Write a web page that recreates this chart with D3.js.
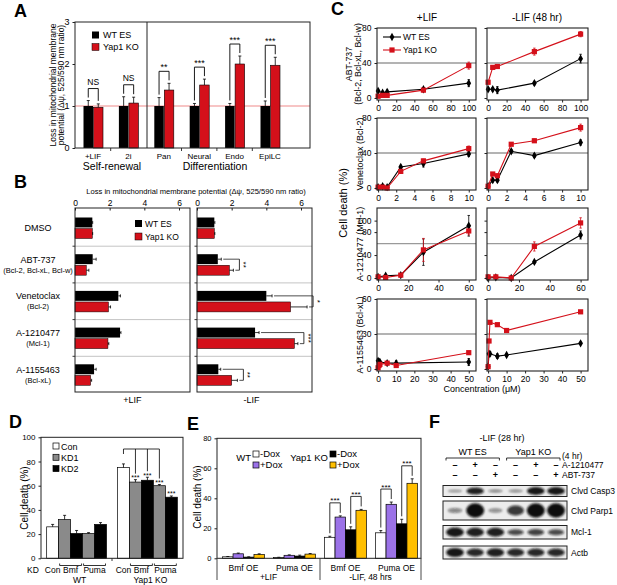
<!DOCTYPE html>
<html lang="en">
<head>
<meta charset="UTF-8" />
<title>Yap1 KO mitochondrial apoptosis</title>
<script src="https://cdn.jsdelivr.net/npm/d3@7"></script>
<style>
  body { margin: 0; background: #fff; }
  svg { display: block; }
</style>
</head>
<body>
<div id="fig"></div>
<script>
/* ---------- data ---------- */
// A: mitochondrial membrane potential loss per condition
const aGroups = ["+LIF", "2i", "Pan", "Neural", "Endo", "EpiLC"];
const aWT    = [1.0, 1.0, 1.0, 1.0, 1.0, 1.0];
const aWTerr = [0.13, 0.22, 0.2, 0.06, 0.06, 0.12];
const aKO    = [0.97, 1.07, 1.38, 1.5, 2.0, 1.97];
const aKOerr = [0.08, 0.14, 0.16, 0.14, 0.19, 0.19];
const aSig   = ["NS", "NS", "**", "***", "***", "***"];

// B: BH3 mimetics, +LIF / -LIF
const bDrugs   = ["DMSO", "ABT-737", "Venetoclax", "A-1210477", "A-1155463"];
const bTargets = ["", "(Bcl-2, Bcl-xL, Bcl-w)", "(Bcl-2)", "(Mcl-1)", "(Bcl-xL)"];
const bLifWT      = [1.0, 1.02, 2.5, 2.6, 1.1];
const bLifWTerr   = [0.02, 0.2, 0.12, 0.05, 0.12];
const bLifKO      = [1.0, 0.65, 1.93, 1.9, 0.9];
const bLifKOerr   = [0.02, 0.15, 0.12, 0.05, 0.06];
const bNoLifWT    = [1.0, 1.2, 4.0, 3.35, 1.23];
const bNoLifWTerr = [0.03, 0.2, 0.33, 0.23, 0.14];
const bNoLifKO    = [1.0, 1.87, 5.4, 5.62, 2.0];
const bNoLifKOerr = [0.03, 0.23, 0.95, 0.2, 0.33];
const bSig = ["", "**", "*", "***", "**"];

// C: dose response, cell death (%)
const cAbtConc      = [0, 5, 10, 50, 100];
const cAbtLifWT     = [8, 6, 7, 10, 17];
const cAbtLifWTerr  = [2, 1, 2, 2, 4];
const cAbtLifKO     = [2, 3, 3, 9, 37];
const cAbtLifKOerr  = [1, 1, 1, 2, 4];
const cAbtNoWT      = [10, 10, 9, 17, 45];
const cAbtNoWTerr   = [2, 2, 4, 2, 5];
const cAbtNoKO      = [18, 35, 36, 53, 73];
const cAbtNoKOerr   = [2, 2, 2, 4, 3];

const cVenConc      = [0, 0.5, 1, 2.5, 5, 10];
const cVenLifWT     = [1, 2, 1, 24, 28, 39];
const cVenLifWTerr  = [1, 2, 1, 2, 4, 3];
const cVenLifKO     = [1, 1, 0, 19, 31, 45];
const cVenLifKOerr  = [1, 1, 1, 2, 2, 3];
const cVenNoWT      = [2, 9, 9, 42, 37, 52];
const cVenNoWTerr   = [1, 2, 2, 2, 2, 3];
const cVenNoKO      = [2, 16, 14, 50, 54, 69];
const cVenNoKOerr   = [1, 1, 2, 1, 2, 4];

const cMclConc      = [0, 5, 15, 30, 60];
const cMclLifWT     = [2, 4, 5, 45, 91];
const cMclLifWTerr  = [1, 2, 1, 23, 18];
const cMclLifKO     = [2, 1, 5, 49, 82];
const cMclLifKOerr  = [1, 1, 1, 20, 7];
const cMclNoWT      = [0, 1, 0, 28, 75];
const cMclNoWTerr   = [1, 1, 1, 2, 7];
const cMclNoKO      = [2, 2, 0, 55, 96];
const cMclNoKOerr   = [1, 1, 1, 8, 9];

const cXlConc       = [0, 0.5, 1, 5, 10, 50];
const cXlLifWT      = [7, 6, 6, 5, 5, 6];
const cXlLifWTerr   = [2, 1, 1, 1, 2, 3];
const cXlLifKO      = [1, 3, 4, 5, 3, 14];
const cXlLifKOerr   = [1, 1, 1, 1, 1, 1];
const cXlNoWT       = [2, 13, 13, 11, 12, 22];
const cXlNoWTerr    = [1, 1, 2, 2, 1, 1];
const cXlNoKO       = [2, 24, 40, 38, 33, 49];
const cXlNoKOerr    = [1, 1, 1, 1, 1, 1];

const cYMax   = [80, 80, 122, 60];
const cYTicks = [[0, 40, 80], [0, 40, 80], [0, 40, 80, 100], [0, 30, 60]];
const cXTicks = [[0, 20, 40, 60, 80, 100], [0, 2, 4, 6, 8, 10], [0, 20, 40, 60], [0, 10, 20, 30, 40, 50]];
const cRef    = [40, 40, 60, 30];

// D: Bmf / Puma knockdown
const dGroups = ["WT", "Yap1 KO"];
const dKinds  = ["Con", "KD1", "KD2", "KD1", "KD2"];
const dWT     = [26, 32, 20.5, 20.5, 28];
const dWTerr  = [2, 3.5, 2.5, 0.7, 1.5];
const dKO     = [75, 63, 64.5, 60, 50.5];
const dKOerr  = [3, 2, 2.5, 1, 1];
const dKOsig  = ["", "***", "***", "***", "***"];

// E: Bmf / Puma overexpression
const eConds    = ["Bmf OE", "Puma OE", "Bmf OE", "Puma OE"];
const eWTminus  = [1, 0.5, 14, 17];
const eWTminusE = [0.2, 0.2, 0.7, 1.5];
const eWTplus   = [3, 2, 27.5, 36];
const eWTplusE  = [0.5, 0.3, 0.8, 1.5];
const eKOminus  = [0.8, 1.5, 19, 23];
const eKOminusE = [0.2, 0.6, 2, 3];
const eKOplus   = [2.5, 2.8, 32, 50];
const eKOplusE  = [0.5, 0.4, 0.6, 3];
const eSig      = ["", "", "***", "***"];

// F: western blot (band intensity 0..1)
const fA1210477 = ["-", "+", "-", "-", "+", "-"];
const fABT737   = ["-", "-", "+", "-", "-", "+"];
const fProteins = ["Clvd Casp3", "Clvd Parp1", "Mcl-1", "Actb"];
const fCasp3 = [0.25, 0.9, 0.35, 0.3, 0.95, 0.95];
const fParp1 = [0.3, 1.0, 0.25, 0.75, 1.0, 1.0];
const fMcl1  = [0.95, 0.9, 0.9, 0.65, 0.7, 0.65];
const fActb  = [0.95, 0.85, 0.9, 0.85, 0.85, 0.85];

/* ---------- helpers ---------- */
const FONT = "Liberation Sans, Arial, Helvetica, sans-serif";
const RED = "#d4101a", GRAY = "#8a8a8a", PURPLE = "#9b72e8", GOLD = "#ffbf00";

const svg = d3.select("#fig").append("svg")
  .attr("width", 617).attr("height", 585)
  .attr("font-family", FONT);

function text(g, x, y, s, size, anchor = "middle", rot = 0, weight = null) {
  const t = g.append("text").attr("x", x).attr("y", y)
    .attr("font-size", size).attr("text-anchor", anchor).text(s);
  if (rot) t.attr("transform", `rotate(${rot},${x},${y})`);
  if (weight) t.attr("font-weight", weight);
  return t;
}
function line(g, x1, y1, x2, y2, stroke = "#000", w = 0.9) {
  return g.append("line").attr("x1", x1).attr("y1", y1).attr("x2", x2).attr("y2", y2)
    .attr("stroke", stroke).attr("stroke-width", w);
}
function frame(g, x0, y0, x1, y1, w = 1) {
  g.append("rect").attr("x", x0).attr("y", y0).attr("width", x1 - x0).attr("height", y1 - y0)
    .attr("fill", "none").attr("stroke", "#222").attr("stroke-width", w);
}
function vErr(g, x, y0, y1, cap = 3, stroke = "#000") {
  line(g, x, y0, x, y1, stroke, 0.8);
  line(g, x - cap / 2, y1, x + cap / 2, y1, stroke, 0.8);
}
function hErr(g, y, x0, x1, cap = 3) {
  line(g, x0, y, x1, y, "#000", 0.8);
  line(g, x1, y - cap / 2, x1, y + cap / 2, "#000", 0.8);
}
function styleAxis(ax, size) {
  ax.attr("font-family", FONT).attr("font-size", size);
  ax.select(".domain").remove();
  ax.selectAll(".tick line").attr("stroke", "#222");
}
function letter(x, y, s) { text(svg, x, y, s, 18, "start", 0, "bold"); }

/* ---------- A ---------- */
{
  const g = svg.append("g");
  letter(14, 17, "A");
  const y = d3.scaleLinear().domain([0, 3]).range([148, 22]);
  const x = d3.scalePoint().domain(aGroups).range([93, 270]);
  const bw = 9.5;

  line(g, 75, y(1), 310, y(1), "#f08a8a", 1.2);
  const rows = aGroups.map((k, i) => ({ k, wt: aWT[i], wtE: aWTerr[i], ko: aKO[i], koE: aKOerr[i], sig: aSig[i] }));

  g.selectAll(".wt").data(rows).join("rect")
    .attr("x", d => x(d.k) - bw).attr("y", d => y(d.wt))
    .attr("width", bw).attr("height", d => y(0) - y(d.wt)).attr("fill", "#000");
  g.selectAll(".ko").data(rows).join("rect")
    .attr("x", d => x(d.k) + 0.5).attr("y", d => y(d.ko))
    .attr("width", bw).attr("height", d => y(0) - y(d.ko))
    .attr("fill", RED).attr("stroke", "#000").attr("stroke-width", 0.6);

  rows.forEach(d => {
    const xw = x(d.k) - bw / 2, xk = x(d.k) + 0.5 + bw / 2;
    const tw = y(d.wt + d.wtE), tk = y(d.ko + d.koE);
    vErr(g, xw, y(d.wt), tw);
    vErr(g, xk, y(d.ko), tk);
    const top = Math.min(tw, tk) - 12;
    line(g, xw, top, xk, top);
    line(g, xw, top, xw, tw - 3);
    line(g, xk, top, xk, tk - 3);
    text(g, (xw + xk) / 2, top - (d.sig === "NS" ? 4 : 1.5), d.sig, d.sig === "NS" ? 8.5 : 9);
  });

  frame(g, 75, 22, 310, 148);
  line(g, 147, 22, 147, 148, "#222", 1);
  const ax = g.append("g").attr("transform", "translate(75,0)")
    .call(d3.axisLeft(y).tickValues([0, 1, 2, 3]).tickSize(2.5).tickFormat(d3.format("d")));
  styleAxis(ax, 9);

  // small ticks between groups
  aGroups.slice(1).forEach((k, i) => {
    const xm = (x(aGroups[i]) + x(k)) / 2;
    if (Math.abs(xm - 147) > 3) line(g, xm, 148, xm, 151, "#222");
  });
  aGroups.forEach(k => text(g, x(k), 158.5, k, 8));
  text(g, 112, 170, "Self-renewal", 10.5);
  text(g, 215, 170, "Differentiation", 10.5);

  text(g, 56, 85, "Loss in mitochondrial membrane", 8.5, "middle", -90);
  text(g, 64, 85, "potential (\u0394\u03c8, 525/590 nm ratio)", 8.5, "middle", -90);

  g.append("rect").attr("x", 92).attr("y", 31.5).attr("width", 7).attr("height", 7).attr("fill", "#000");
  g.append("rect").attr("x", 92).attr("y", 43.5).attr("width", 7).attr("height", 7).attr("fill", RED).attr("stroke", "#000").attr("stroke-width", 0.5);
  text(g, 103, 38, "WT ES", 9, "start");
  text(g, 103, 50, "Yap1 KO", 9, "start");
}

/* ---------- B ---------- */
{
  const g = svg.append("g");
  letter(14, 188, "B");
  text(g, 196, 194, "Loss in mitochondrial membrane potential (\u0394\u03c8, 525/590 nm ratio)", 7.6);
  const rowY = d3.scaleBand().domain(bDrugs).range([209.5, 393]);
  const sub = d3.scaleBand().domain(["WT", "KO"]).range([8, 29]).paddingInner(0.1);
  const panels = [
    { x0: 75, x1: 190, wt: bLifWT, wtE: bLifWTerr, ko: bLifKO, koE: bLifKOerr, name: "+LIF", sig: null },
    { x0: 197, x1: 312, wt: bNoLifWT, wtE: bNoLifWTerr, ko: bNoLifKO, koE: bNoLifKOerr, name: "-LIF", sig: bSig }
  ];
  panels.forEach((p, pi) => {
    const x = d3.scaleLinear().domain([0, 6]).range([p.x0, p.x0 + 104]);
    bDrugs.slice(1).forEach(k => line(g, p.x0, rowY(k), p.x1, rowY(k), "#c4c4c4", 1));
    const rows = bDrugs.map((k, i) => ({ k, wt: p.wt[i], wtE: p.wtE[i], ko: p.ko[i], koE: p.koE[i], sig: p.sig ? p.sig[i] : "" }));
    g.selectAll(null).data(rows).join("rect")
      .attr("x", x(0)).attr("y", d => rowY(d.k) + sub("WT"))
      .attr("width", d => x(d.wt) - x(0)).attr("height", sub.bandwidth()).attr("fill", "#000");
    g.selectAll(null).data(rows).join("rect")
      .attr("x", x(0)).attr("y", d => rowY(d.k) + sub("KO"))
      .attr("width", d => x(d.ko) - x(0)).attr("height", sub.bandwidth())
      .attr("fill", RED).attr("stroke", "#000").attr("stroke-width", 0.5);
    rows.forEach(d => {
      const yw = rowY(d.k) + sub("WT") + sub.bandwidth() / 2;
      const yk = rowY(d.k) + sub("KO") + sub.bandwidth() / 2;
      hErr(g, yw, x(d.wt), x(d.wt + d.wtE));
      hErr(g, yk, x(d.ko), x(d.ko + d.koE));
      if (d.sig) {
        const bx = Math.max(x(d.wt + d.wtE), x(d.ko + d.koE)) + 6;
        line(g, x(d.wt + d.wtE) + 2, yw, bx, yw, "#000", 0.7);
        line(g, x(d.ko + d.koE) + 2, yk, bx, yk, "#000", 0.7);
        line(g, bx, yw, bx, yk, "#000", 0.8);
        text(g, bx + 2, (yw + yk) / 2, d.sig, 8, "middle", 90);
      }
    });
    frame(g, p.x0, 208, p.x1, 392);
    const ax = g.append("g").attr("transform", "translate(0,208)")
      .call(d3.axisTop(x).tickValues([0, 2, 4, 6]).tickSize(-2.5).tickPadding(2.5).tickFormat(d3.format("d")));
    styleAxis(ax, 8.5);
    bDrugs.slice(1).forEach(k => line(g, p.x0 - 2.5, rowY(k), p.x0, rowY(k), "#222"));
    text(g, (p.x0 + p.x1) / 2 - (pi ? 3 : 0), 403, p.name, 9);
  });
  bDrugs.forEach((k, i) => {
    const cy = rowY(k) + rowY.bandwidth() / 2 - 1;
    if (bTargets[i]) {
      text(g, 38, cy - 1, k, 9);
      text(g, 38, cy + 9, bTargets[i], 7.5);
    } else {
      text(g, 38, cy + 4, k, 9);
    }
  });
  g.append("rect").attr("x", 135).attr("y", 220).attr("width", 7).attr("height", 7).attr("fill", "#000");
  g.append("rect").attr("x", 135).attr("y", 233).attr("width", 7).attr("height", 7).attr("fill", RED).attr("stroke", "#000").attr("stroke-width", 0.5);
  text(g, 145, 226.5, "WT ES", 8.5, "start");
  text(g, 145, 239.5, "Yap1 KO", 8.5, "start");
}

/* ---------- C ---------- */
{
  const g = svg.append("g");
  letter(331, 15, "C");
  const cols = [[377, 476], [487, 588]];
  const rowTop = [28, 118, 208, 299];
  const rowDefs = [
    { conc: cAbtConc, s: [[cAbtLifWT, cAbtLifWTerr, cAbtLifKO, cAbtLifKOerr], [cAbtNoWT, cAbtNoWTerr, cAbtNoKO, cAbtNoKOerr]], label: ["ABT-737", "(Bcl-2, Bcl-xL, Bcl-w)"] },
    { conc: cVenConc, s: [[cVenLifWT, cVenLifWTerr, cVenLifKO, cVenLifKOerr], [cVenNoWT, cVenNoWTerr, cVenNoKO, cVenNoKOerr]], label: ["Venetoclax (Bcl-2)"] },
    { conc: cMclConc, s: [[cMclLifWT, cMclLifWTerr, cMclLifKO, cMclLifKOerr], [cMclNoWT, cMclNoWTerr, cMclNoKO, cMclNoKOerr]], label: ["A-1210477 (Mcl-1)"] },
    { conc: cXlConc, s: [[cXlLifWT, cXlLifWTerr, cXlLifKO, cXlLifKOerr], [cXlNoWT, cXlNoWTerr, cXlNoKO, cXlNoKOerr]], label: ["A-1155463 (Bcl-xL)"] }
  ];
  const diamond = d3.symbol().type(d3.symbolDiamond).size(20);

  rowDefs.forEach((r, ri) => {
    const top = rowTop[ri], bottom = top + 72;
    const y = d3.scaleLinear().domain([0, cYMax[ri]]).range([top + 70, top]);
    const xmax = d3.max(cXTicks[ri]);
    cols.forEach(([x0, x1], ci) => {
      const x = d3.scaleLinear().domain([-0.012 * xmax, 1.08 * xmax]).range([x0, x1]);
      line(g, x0, y(cRef[ri]), x1, y(cRef[ri]), "#9a9a9a", 1.3);
      const [wt, wtE, ko, koE] = r.s[ci];
      const pts = (v, e) => r.conc.map((c, i) => ({ c, v: v[i], e: e[i] }));
      const series = [
        { pts: pts(wt, wtE), color: "#000", kind: "wt" },
        { pts: pts(ko, koE), color: RED, kind: "ko" }
      ];
      const ln = d3.line().x(d => x(d.c)).y(d => y(d.v));
      series.forEach(s => {
        s.pts.forEach(d => {
          vErr(g, x(d.c), y(d.v - d.e), y(d.v + d.e), 2.5, s.color === RED ? RED : "#000");
          line(g, x(d.c) - 1.2, y(d.v - d.e), x(d.c) + 1.2, y(d.v - d.e), s.color, 0.8);
        });
      });
      series.forEach(s => {
        g.append("path").datum(s.pts).attr("d", ln).attr("fill", "none")
          .attr("stroke", s.color).attr("stroke-width", 1.1);
        if (s.kind === "wt") {
          g.selectAll(null).data(s.pts).join("path")
            .attr("d", diamond).attr("transform", d => `translate(${x(d.c)},${y(d.v)})`).attr("fill", "#000");
        } else {
          g.selectAll(null).data(s.pts).join("rect")
            .attr("x", d => x(d.c) - 2.6).attr("y", d => y(d.v) - 2.6)
            .attr("width", 5.2).attr("height", 5.2).attr("fill", RED);
        }
      });
      frame(g, x0, top, x1, bottom, 1.1);
      const ay = g.append("g").attr("transform", `translate(${x0},0)`)
        .call(d3.axisLeft(y).tickValues(cYTicks[ri]).tickSize(2.5));
      styleAxis(ay, 8.5);
      if (ci === 1) ay.selectAll("text").remove();
      const ax = g.append("g").attr("transform", `translate(0,${bottom})`)
        .call(d3.axisBottom(x).tickValues(cXTicks[ri]).tickSize(2.5));
      styleAxis(ax, 8.5);
      ax.selectAll("text").attr("dy", "0.6em");
    });
    const cy = top + 36;
    if (r.label.length === 2) {
      text(g, 352, cy, r.label[0], 8.8, "middle", -90);
      text(g, 361, cy, r.label[1], 8.8, "middle", -90);
    } else {
      text(g, 363, cy, r.label[0], 9, "middle", -90);
    }
  });
  text(g, 427, 21, "+LIF", 10);
  text(g, 537, 21, "-LIF (48 hr)", 10);
  text(g, 347, 203, "Cell death (%)", 11, "middle", -90);
  text(g, 482, 392, "Concentration (\u03bcM)", 9);
  // legend
  line(g, 383, 37, 401, 37, "#000", 1.1);
  g.append("path").attr("d", diamond).attr("transform", "translate(392,37)");
  text(g, 403, 40, "WT ES", 8.5, "start");
  line(g, 383, 50, 401, 50, RED, 1.1);
  g.append("rect").attr("x", 389.4).attr("y", 47.4).attr("width", 5.2).attr("height", 5.2).attr("fill", RED);
  text(g, 403, 53, "Yap1 KO", 8.5, "start");
}

/* ---------- D ---------- */
{
  const g = svg.append("g");
  letter(9, 428, "D");
  const y = d3.scaleLinear().domain([0, 100]).range([558.3, 437.3]);
  const xg = d3.scaleBand().domain(dGroups).range([41, 183]).paddingInner(0.155).paddingOuter(0.08);
  const xb = d3.scaleBand().domain(d3.range(5)).range([0, xg.bandwidth()]);
  const fills = { Con: "#fff", KD1: GRAY, KD2: "#000" };
  const data = [dWT, dKO];
  const errs = [dWTerr, dKOerr];
  dGroups.forEach((grp, gi) => {
    const rows = dKinds.map((k, i) => ({ k, i, v: data[gi][i], e: errs[gi][i] }));
    const bx = i => xg(grp) + xb(i);
    g.selectAll(null).data(rows).join("rect")
      .attr("x", d => bx(d.i)).attr("y", d => y(d.v))
      .attr("width", xb.bandwidth()).attr("height", d => y(0) - y(d.v))
      .attr("fill", d => fills[d.k]).attr("stroke", "#000").attr("stroke-width", 0.7);
    rows.forEach(d => vErr(g, bx(d.i) + xb.bandwidth() / 2, y(d.v), y(d.v + d.e)));
    // x labels
    const c = i => bx(i) + xb.bandwidth() / 2;
    text(g, c(0), 573, "Con", 8.5);
    [[1, "Bmf"], [3, "Puma"]].forEach(([i, lab]) => {
      const xa = bx(i) + 1, xz = bx(i + 1) + xb.bandwidth() - 1;
      line(g, xa, 565.5, xz, 565.5, "#000", 0.8);
      line(g, xa, 565.5, xa, 563.5, "#000", 0.8);
      line(g, xz, 565.5, xz, 563.5, "#000", 0.8);
      text(g, (xa + xz) / 2, 573, lab, 8.5);
    });
    text(g, xg(grp) + xg.bandwidth() / 2 + 3, 582.5, grp, 8.5);
    if (gi === 1) {
      const topY = 449;
      line(g, c(0), topY, c(3), topY, "#000", 0.8);
      line(g, c(0), topY, c(0), topY + 5, "#000", 0.8);
      rows.forEach(d => {
        if (!dKOsig[d.i]) return;
        const et = y(d.v + d.e);
        text(g, c(d.i), et + 0.5, dKOsig[d.i], 7);
        if (d.i < 4) line(g, c(d.i), topY, c(d.i), et - 6, "#000", 0.8);
      });
    }
  });
  frame(g, 41, 437.3, 183, 558.3);
  const ay = g.append("g").attr("transform", "translate(41,0)")
    .call(d3.axisLeft(y).tickValues(d3.range(0, 101, 20)).tickSize(2.5));
  styleAxis(ay, 8);
  line(g, 112, 558.3, 112, 561, "#222");
  text(g, 33, 573, "KD", 8.5);
  text(g, 28, 498, "Cell death (%)", 10, "middle", -90);
  const leg = [["Con", "#fff"], ["KD1", GRAY], ["KD2", "#000"]];
  leg.forEach(([lab, f], i) => {
    g.append("rect").attr("x", 53).attr("y", 443 + i * 11.3).attr("width", 6).attr("height", 6)
      .attr("fill", f).attr("stroke", "#000").attr("stroke-width", 0.7);
    text(g, 61, 449.5 + i * 11.3, lab, 9, "start");
  });
}

/* ---------- E ---------- */
{
  const g = svg.append("g");
  letter(187, 430, "E");
  const y = d3.scaleLinear().domain([0, 80]).range([558.3, 438.3]);
  const xg = d3.scaleBand().domain(d3.range(4)).range([218, 422]).paddingInner(0.18).paddingOuter(0.09);
  const kinds = ["wm", "wp", "km", "kp"];
  const xb = d3.scaleBand().domain(kinds).range([0, xg.bandwidth()]);
  const fills = { wm: "#fff", wp: PURPLE, km: "#000", kp: GOLD };
  const vals = { wm: [eWTminus, eWTminusE], wp: [eWTplus, eWTplusE], km: [eKOminus, eKOminusE], kp: [eKOplus, eKOplusE] };
  eConds.forEach((cond, ci) => {
    const rows = kinds.map(k => ({ k, v: vals[k][0][ci], e: vals[k][1][ci] }));
    g.selectAll(null).data(rows).join("rect")
      .attr("x", d => xg(ci) + xb(d.k)).attr("y", d => y(d.v))
      .attr("width", xb.bandwidth()).attr("height", d => y(0) - y(d.v))
      .attr("fill", d => fills[d.k]).attr("stroke", "#000").attr("stroke-width", 0.7);
    rows.forEach(d => vErr(g, xg(ci) + xb(d.k) + xb.bandwidth() / 2, y(d.v), y(d.v + d.e)));
    if (eSig[ci]) {
      [["wm", "wp"], ["km", "kp"]].forEach(([a, b]) => {
        const ra = rows.find(r => r.k === a), rb = rows.find(r => r.k === b);
        const xa = xg(ci) + xb(a) + xb.bandwidth() / 2, xz = xg(ci) + xb(b) + xb.bandwidth() / 2;
        const ta = y(ra.v + ra.e), tb = y(rb.v + rb.e);
        const top = Math.min(ta, tb) - 13;
        line(g, xa, top, xz, top, "#000", 0.8);
        line(g, xa, top, xa, ta - 3, "#000", 0.8);
        line(g, xz, top, xz, tb - 3, "#000", 0.8);
        text(g, (xa + xz) / 2, top + 0.5, eSig[ci], 8);
      });
    }
    text(g, xg(ci) + xg.bandwidth() / 2, 571, cond, 8.5);
  });
  frame(g, 217, 438.3, 421, 558.3);
  const ay = g.append("g").attr("transform", "translate(217,0)")
    .call(d3.axisLeft(y).tickValues(d3.range(0, 81, 20)).tickSize(2.5));
  styleAxis(ay, 7.5);
  const mid = (xg(1) + xg.bandwidth() + xg(2)) / 2;
  [217, mid, 421].forEach(xx => line(g, xx, 558.3, xx, 580, "#333", 0.9));
  text(g, (217 + mid) / 2, 580, "+LIF", 8.5);
  text(g, (mid + 421) / 2, 580, "-LIF, 48 hrs", 8.5);
  text(g, 201, 497, "Cell death (%)", 10, "middle", -90);
  // legend
  text(g, 251, 461, "WT", 9.5, "end");
  text(g, 328, 461, "Yap1 KO", 9.5, "end");
  [[253, "#fff", 451], [253, PURPLE, 462], [330, "#000", 451], [330, GOLD, 462]].forEach(([lx, f, ly]) => {
    g.append("rect").attr("x", lx).attr("y", ly).attr("width", 6).attr("height", 6)
      .attr("fill", f).attr("stroke", "#000").attr("stroke-width", 0.7);
    text(g, lx + 7, ly + 6, ly < 460 ? "-Dox" : "+Dox", 9.5, "start");
  });
}

/* ---------- F ---------- */
{
  const g = svg.append("g");
  letter(429, 428, "F");
  const defs = svg.append("defs");
  defs.append("filter").attr("id", "blur").attr("x", "-50%").attr("y", "-100%").attr("width", "200%").attr("height", "300%")
    .append("feGaussianBlur").attr("stdDeviation", 1.3);
  const lane = d3.scalePoint().domain(d3.range(6)).range([455, 556]);
  text(g, 502, 441, "-LIF (28 hr)", 9);
  [[0, 2, "WT ES"], [3, 5, "Yap1 KO"]].forEach(([a, b, lab]) => {
    const xa = lane(a) - 9, xz = lane(b) + 4;
    text(g, (xa + xz) / 2, 455, lab, 9);
    line(g, xa, 458, xz, 458, "#000", 0.8);
    line(g, xa, 458, xa, 460.5, "#000", 0.8);
    line(g, xz, 458, xz, 460.5, "#000", 0.8);
  });
  text(g, 562, 459, "(4 hr)", 8.5, "start");
  text(g, 562, 468, "A-1210477", 8.5, "start");
  text(g, 562, 478, "ABT-737", 8.5, "start");
  fA1210477.forEach((s, i) => text(g, lane(i), 468, s === "-" ? "\u2013" : "+", 9, "middle", 0, "bold"));
  fABT737.forEach((s, i) => text(g, lane(i), 478, s === "-" ? "\u2013" : "+", 9, "middle", 0, "bold"));

  const blots = [
    { name: fProteins[0], v: fCasp3, y0: 485.5, h: 11 },
    { name: fProteins[1], v: fParp1, y0: 501, h: 19 },
    { name: fProteins[2], v: fMcl1, y0: 525.5, h: 13.5 },
    { name: fProteins[3], v: fActb, y0: 546, h: 13 }
  ];
  blots.forEach(b => {
    g.append("rect").attr("x", 443).attr("y", b.y0).attr("width", 124).attr("height", b.h)
      .attr("fill", "#ececec");
    g.append("g").attr("filter", "url(#blur)")
      .selectAll("ellipse").data(b.v).join("ellipse")
      .attr("cx", (d, i) => lane(i)).attr("cy", b.y0 + b.h / 2)
      .attr("rx", d => 6.5 + 2.5 * d)
      .attr("ry", d => b.h * (0.1 + 0.28 * d * d))
      .attr("fill", "#111").attr("fill-opacity", d => 0.25 + 0.75 * d);
    g.append("rect").attr("x", 443).attr("y", b.y0).attr("width", 124).attr("height", b.h)
      .attr("fill", "none").attr("stroke", "#222").attr("stroke-width", 1);
    text(g, 571, b.y0 + b.h / 2 + 3, b.name, 8.5, "start");
  });
}
</script>
</body>
</html>
